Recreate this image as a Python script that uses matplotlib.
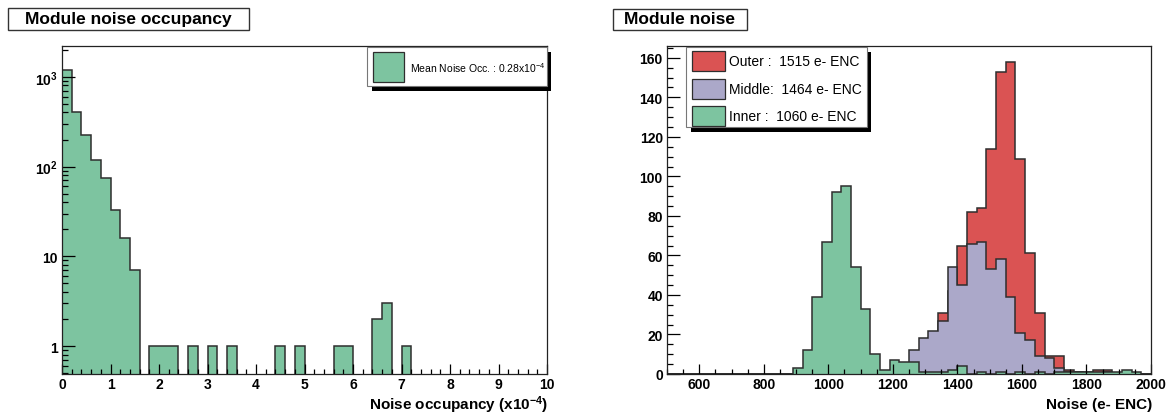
import numpy as np
import matplotlib
matplotlib.use("Agg")
import matplotlib.pyplot as plt
from matplotlib.patches import Rectangle
from matplotlib.ticker import MultipleLocator, FixedLocator, FixedFormatter, NullFormatter

plt.rcParams['font.family'] = ['Liberation Sans', 'DejaVu Sans']
plt.rcParams['mathtext.fontset'] = 'custom'
plt.rcParams['mathtext.rm'] = 'Liberation Sans'
plt.rcParams['mathtext.bf'] = 'Liberation Sans:bold'

# ---- noise occupancy: 50 bins of 0.2 (x1e-4) between 0 and 10 ----
occ_range = (0.0, 10.0)
occ_counts = [1180, 400, 225, 118, 75, 33, 16, 7, 0, 1,
              1, 1, 0, 1, 0, 1, 0, 1, 0, 0,
              0, 0, 1, 0, 1, 0, 0, 0, 1, 1,
              0, 0, 2, 3, 0, 1, 0, 0, 0, 0,
              0, 0, 0, 0, 0, 0, 0, 0, 0, 0]
occ_legend = "Mean Noise Occ. : 0.28x10$^{-4}$"

# ---- module noise: 50 bins of 30 e- between 500 and 2000 ----
noise_range = (500.0, 2000.0)
noise_outer = [0, 0, 0, 0, 0, 0, 0, 0, 0, 0,
               0, 0, 0, 0, 0, 0, 0, 0, 0, 0,
               0, 0, 0, 0, 2, 5, 10, 18, 31, 42,
               65, 82, 84, 114, 153, 158, 109, 61, 31, 9,
               9, 2, 1, 0, 2, 2, 0, 0, 0, 0]
noise_middle = [0, 0, 0, 0, 0, 0, 0, 0, 0, 0,
                0, 0, 0, 0, 0, 0, 0, 0, 0, 0,
                0, 0, 0, 1, 3, 12, 18, 22, 27, 54,
                45, 66, 67, 53, 58, 39, 21, 17, 9, 8,
                3, 1, 1, 1, 0, 1, 0, 0, 0, 0]
noise_inner = [0, 0, 0, 0, 0, 0, 0, 0, 0, 0,
               0, 0, 0, 3, 12, 39, 67, 92, 95, 54,
               33, 10, 2, 7, 6, 6, 1, 1, 1, 2,
               4, 0, 1, 0, 1, 0, 1, 0, 1, 0,
               1, 1, 1, 1, 1, 1, 1, 2, 1, 0]
noise_labels = ["Outer :  1515 e- ENC", "Middle:  1464 e- ENC", "Inner :  1060 e- ENC"]

GREEN = "#7dc4a0"
RED = "#da5353"
PURPLE = "#aba8c9"
EDGE = "#2e2e2e"

W, H = 1174, 414
fig = plt.figure(figsize=(W / 100, H / 100), dpi=100)


def fx(px):
    return px / W


def fy(py):
    return 1 - py / H


def box(x0, y0, x1, y1, **kw):
    r = Rectangle((fx(x0), fy(y1)), fx(x1) - fx(x0), fy(y0) - fy(y1),
                  transform=fig.transFigure, **kw)
    fig.patches.append(r)
    return r


ax1 = fig.add_axes([fx(62), fy(375), fx(547) - fx(62), fy(47) - fy(375)])
ax2 = fig.add_axes([fx(667), fy(375), fx(1151) - fx(667), fy(47) - fy(375)])

# ---------- left: occupancy, log scale ----------
occ = np.asarray(occ_counts, dtype=float)
occ_edges = np.linspace(occ_range[0], occ_range[1], len(occ) + 1)
floor = 1e-3
ax1.set_yscale("log")
ax1.stairs(np.where(occ > 0, occ, floor), occ_edges, baseline=floor, fill=True,
           facecolor=GREEN, edgecolor=EDGE, linewidth=1.1)
ax1.set_xlim(*occ_range)
ax1.set_ylim(0.49, 2200)

ax1.xaxis.set_major_locator(MultipleLocator(1))
ax1.xaxis.set_minor_locator(MultipleLocator(0.2))
ax1.yaxis.set_major_locator(FixedLocator([1, 10, 100, 1000]))
ax1.yaxis.set_major_formatter(FixedFormatter(
    ["1", "10", r"$\mathregular{10^{2}}$", r"$\mathregular{10^{3}}$"]))
minors = [m * 10 ** e for e in range(-1, 4) for m in range(2, 10)]
ax1.yaxis.set_minor_locator(FixedLocator(minors))
ax1.yaxis.set_minor_formatter(NullFormatter())

# ---------- right: module noise ----------
edges_n = np.linspace(noise_range[0], noise_range[1], len(noise_outer) + 1)
for vals, col in ((noise_outer, RED), (noise_middle, PURPLE), (noise_inner, GREEN)):
    ax2.stairs(vals, edges_n, baseline=0, fill=True,
               facecolor=col, edgecolor=EDGE, linewidth=1.1)
ax2.set_xlim(*noise_range)
ax2.set_ylim(0, 166)
ax2.xaxis.set_major_locator(MultipleLocator(200))
ax2.xaxis.set_minor_locator(MultipleLocator(50))
ax2.yaxis.set_major_locator(MultipleLocator(20))
ax2.yaxis.set_minor_locator(MultipleLocator(5))

for ax in (ax1, ax2):
    for s in ax.spines.values():
        s.set_linewidth(0.9)
        s.set_color("#222222")
    ax.tick_params(axis="x", which="major", direction="in", length=7, width=0.9,
                   labelsize=10, pad=2)
    ax.tick_params(axis="x", which="minor", direction="in", length=3.5, width=0.9)
    ax.tick_params(axis="y", which="major", direction="in", length=9, width=0.9,
                   labelsize=10, pad=3)
    ax.tick_params(axis="y", which="minor", direction="in", length=4.5, width=0.9)
    for lab in ax.get_xticklabels() + ax.get_yticklabels():
        lab.set_fontweight("bold")

# axis titles
fig.text(fx(548), fy(405), "Noise occupancy (x10$\\mathregular{^{-4}}$)",
         ha="right", va="center", fontsize=11, fontweight="bold")
fig.text(fx(1152), fy(405), "Noise (e- ENC)",
         ha="right", va="center", fontsize=11, fontweight="bold")

# pad titles in framed boxes
box(7.5, 8.5, 249, 30.5, facecolor="white", edgecolor="#333333", linewidth=1.0, zorder=2)
fig.text(fx(128), fy(19.5), "Module noise occupancy", ha="center", va="center",
         fontsize=12.5, fontweight="bold", zorder=3)
box(612.5, 9.5, 746.5, 30.5, facecolor="white", edgecolor="#333333", linewidth=1.0, zorder=2)
fig.text(fx(679.5), fy(20), "Module noise", ha="center", va="center",
         fontsize=12.5, fontweight="bold", zorder=3)

# left legend with drop shadow
box(372, 53, 551, 92, facecolor="black", edgecolor="none", zorder=2)
box(367, 48, 547, 87, facecolor="white", edgecolor="#777777", linewidth=0.8, zorder=2)
box(373, 53, 404, 83, facecolor=GREEN, edgecolor=EDGE, linewidth=0.9, zorder=2)
fig.text(fx(410), fy(68), occ_legend, ha="left", va="center", fontsize=7.5, zorder=3)

# right legend with drop shadow
box(691, 53, 871, 133, facecolor="black", edgecolor="none", zorder=2)
box(686, 48, 867, 128, facecolor="white", edgecolor="#777777", linewidth=0.8, zorder=2)
rows = [(52, 72), (80, 99.5), (107, 127)]
for (y0, y1), col, lab in zip(rows, (RED, PURPLE, GREEN), noise_labels):
    box(692, y0, 725, y1, facecolor=col, edgecolor=EDGE, linewidth=0.9, zorder=2)
    fig.text(fx(729), fy((y0 + y1) / 2), lab, ha="left", va="center",
             fontsize=10, zorder=3)

fig.savefig("out.png", dpi=100, facecolor="white")
